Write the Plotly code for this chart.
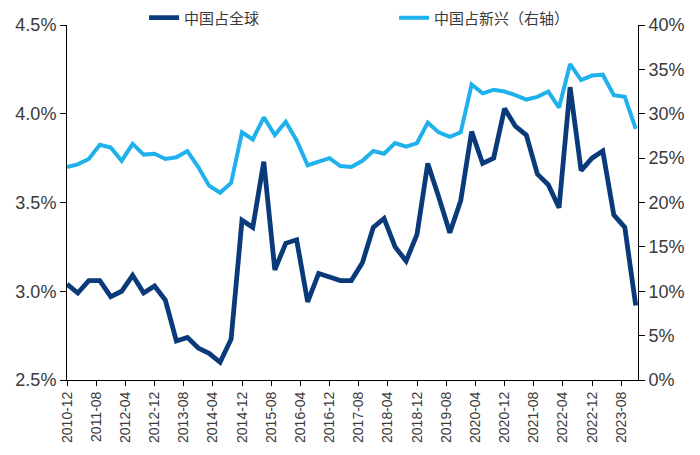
import plotly.graph_objects as go

dates = ["2010-12-01","2011-03-01","2011-06-01","2011-09-01","2011-12-01","2012-03-01","2012-06-01","2012-09-01","2012-12-01",
         "2013-03-01","2013-06-01","2013-09-01","2013-12-01","2014-03-01","2014-06-01","2014-09-01","2014-12-01",
         "2015-03-01","2015-06-01","2015-09-01","2015-12-01","2016-03-01","2016-06-01","2016-09-01","2016-12-01",
         "2017-03-01","2017-06-01","2017-09-01","2017-12-01","2018-03-01","2018-06-01","2018-09-01","2018-12-01",
         "2019-03-01","2019-06-01","2019-09-01","2019-12-01","2020-03-01","2020-06-01","2020-09-01","2020-12-01",
         "2021-03-01","2021-06-01","2021-09-01","2021-12-01","2022-03-01","2022-06-01","2022-09-01","2022-12-01",
         "2023-03-01","2023-06-01","2023-09-01","2023-12-01"]

china_global = [3.04, 2.99, 3.06, 3.06, 2.97, 3.00, 3.09, 2.99, 3.03, 2.95, 2.72, 2.74, 2.68, 2.65, 2.60, 2.73,
                3.40, 3.36, 3.73, 3.12, 3.27, 3.29, 2.94, 3.10, 3.08, 3.06, 3.06, 3.16, 3.36, 3.41, 3.25, 3.17,
                3.32, 3.72, 3.53, 3.33, 3.51, 3.90, 3.72, 3.75, 4.03, 3.93, 3.88, 3.66, 3.60, 3.47, 4.15, 3.68,
                3.75, 3.79, 3.43, 3.36, 2.92]

china_emerging = [24.0, 24.3, 24.9, 26.5, 26.2, 24.7, 26.6, 25.4, 25.5, 24.9, 25.1, 25.8, 24.0, 21.9, 21.1, 22.2,
                  27.9, 27.1, 29.6, 27.6, 29.1, 27.0, 24.2, 24.6, 25.0, 24.1, 24.0, 24.7, 25.8, 25.5, 26.7, 26.3,
                  26.7, 29.0, 27.9, 27.4, 27.9, 33.3, 32.3, 32.7, 32.5, 32.1, 31.6, 31.9, 32.5, 30.7, 35.6, 33.8,
                  34.3, 34.4, 32.1, 31.9, 28.3]

left_ticks = [2.5, 3.0, 3.5, 4.0, 4.5]
left_labels = ["2.5%", "3.0%", "3.5%", "4.0%", "4.5%"]
right_ticks = [0, 5, 10, 15, 20, 25, 30, 35, 40]
right_labels = ["0%", "5%", "10%", "15%", "20%", "25%", "30%", "35%", "40%"]

name_global = "中国占全球"
name_emerging = "中国占新兴（右轴）"

DARK = "#0b3a7a"
LIGHT = "#1fb1ec"
TXT = "#3a3a3a"

fig = go.Figure()
fig.add_trace(go.Scatter(x=dates, y=china_global, name=name_global, mode="lines",
                         line=dict(color=DARK, width=4.8)))
fig.add_trace(go.Scatter(x=dates, y=china_emerging, name=name_emerging, mode="lines",
                         line=dict(color=LIGHT, width=4), yaxis="y2"))

# page body has an 8px default margin, so the figure is sized/offset accordingly
fig.update_layout(
    template="none",
    width=692, height=447,
    margin=dict(l=59, r=62, t=17, b=75, autoexpand=False),
    plot_bgcolor="white", paper_bgcolor="white",
    font=dict(family="Liberation Sans, Arial", color=TXT),
    showlegend=True,
    legend=dict(orientation="h", x=0.135, xanchor="left", y=1.02, yanchor="middle",
                font=dict(family="Noto Sans CJK SC", size=15, color=TXT),
                entrywidth=205, bgcolor="rgba(0,0,0,0)"),
    xaxis=dict(type="date", range=["2010-12-01", "2023-12-20"], tick0="2010-12-01", dtick="M8",
               tickformat="%Y-%m", tickangle=-90, ticks="outside", ticklen=5, tickcolor="black",
               showline=True, linecolor="black", linewidth=1, showgrid=False, zeroline=False,
               automargin=False, tickfont=dict(size=14, color=TXT)),
    yaxis=dict(range=[2.5, 4.5], tickvals=left_ticks, ticktext=left_labels,
               ticks="outside", ticklen=6, tickcolor="black", showline=True, linecolor="black",
               linewidth=1, showgrid=False, zeroline=False, automargin=False,
               tickfont=dict(size=18, color=TXT)),
    yaxis2=dict(range=[0, 40], tickvals=right_ticks, ticktext=right_labels, overlaying="y", side="right",
                ticks="outside", ticklen=6, tickcolor="black", showline=True, linecolor="black",
                linewidth=1, showgrid=False, zeroline=False, automargin=False,
                tickfont=dict(size=18, color=TXT)),
)

fig.write_html("out.html")
